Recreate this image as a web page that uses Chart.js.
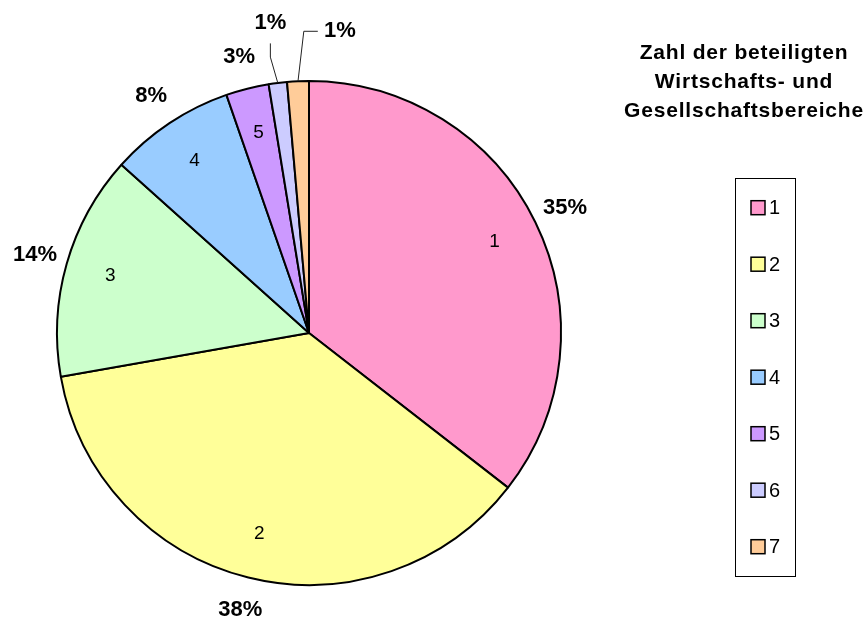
<!DOCTYPE html>
<html>
<head>
<meta charset="utf-8">
<script src="https://cdn.jsdelivr.net/npm/chart.js@4/dist/chart.umd.min.js"></script>
<style>
  html, body { margin: 0; padding: 0; background: #fff; }
</style>
</head>
<body>
<canvas id="chart" width="863" height="617"></canvas>
<script>
const categories = ['1', '2', '3', '4', '5', '6', '7'];
const shares = [35.5, 36.7, 14.4, 8.05, 2.75, 1.17, 1.39];
const shareLabels = ['35%', '38%', '14%', '8%', '3%', '1%', '1%'];
const colors = ['#FF99CC', '#FFFF99', '#CCFFCC', '#99CCFF', '#CC99FF', '#CCCCFF', '#FFCC99'];
const legendTitle = ['Zahl der beteiligten', 'Wirtschafts- und', 'Gesellschaftsbereiche'];

const FONT = '"Liberation Sans", Arial, sans-serif';

// labels inside and outside the slices, with leader lines for the tiny ones
const pieLabels = {
  id: 'pieLabels',
  afterDatasetsDraw(chart) {
    const ctx = chart.ctx;
    const meta = chart.getDatasetMeta(0);
    let smallCount = 0;
    ctx.save();
    ctx.fillStyle = '#000';
    ctx.strokeStyle = '#222';
    ctx.lineWidth = 1;
    ctx.textAlign = 'center';
    ctx.textBaseline = 'middle';
    meta.data.forEach((arc, i) => {
      const { x, y, startAngle, endAngle, outerRadius: r } =
        arc.getProps(['x', 'y', 'startAngle', 'endAngle', 'outerRadius'], true);
      const mid = (startAngle + endAngle) / 2;
      const cos = Math.cos(mid), sin = Math.sin(mid);
      if (shares[i] >= 2) {
        ctx.font = '19px ' + FONT;
        ctx.fillText(categories[i], x + cos * r * 0.82, y + sin * r * 0.82);
        ctx.font = 'bold 22px ' + FONT;
        ctx.fillText(shareLabels[i], x + cos * (r + 33), y + sin * (r + 33));
        return;
      }
      const ax = x + cos * r, ay = y + sin * r;
      ctx.font = 'bold 22px ' + FONT;
      ctx.beginPath();
      ctx.moveTo(ax, ay);
      if (smallCount === 0) {
        const lx = x + cos * (r + 60), ly = y + sin * (r + 60);
        ctx.lineTo(lx, y + sin * (r + 26));
        ctx.lineTo(lx, ly + 20);
        ctx.stroke();
        ctx.fillText(shareLabels[i], lx, ly);
      } else {
        const lx = x + cos * (r + 50) + 44, ly = y + sin * (r + 50);
        ctx.lineTo(lx - 36, ly);
        ctx.lineTo(lx - 22, ly);
        ctx.stroke();
        ctx.fillText(shareLabels[i], lx, ly);
      }
      smallCount++;
    });
    ctx.restore();
  }
};

// boxed legend on the right with its three-line title above
const sideLegend = {
  id: 'sideLegend',
  afterDraw(chart) {
    const ctx = chart.ctx;
    const meta = chart.getDatasetMeta(0);
    ctx.save();
    ctx.fillStyle = '#000';
    ctx.textAlign = 'center';
    ctx.textBaseline = 'middle';
    ctx.font = 'bold 21px ' + FONT;
    if ('letterSpacing' in ctx) ctx.letterSpacing = '0.8px';
    legendTitle.forEach((line, k) => ctx.fillText(line, 744, 53 + k * 29));
    if ('letterSpacing' in ctx) ctx.letterSpacing = '0px';

    ctx.strokeStyle = '#000';
    ctx.lineWidth = 1;
    ctx.strokeRect(735.5, 178.5, 60, 398);

    ctx.textAlign = 'left';
    ctx.font = '20px ' + FONT;
    chart.data.labels.forEach((label, i) => {
      const cy = 207.7 + i * 56.5;
      ctx.fillStyle = meta.data[i].options.backgroundColor;
      ctx.fillRect(751, cy - 7, 14, 14);
      ctx.lineWidth = 1.5;
      ctx.strokeRect(751, cy - 7, 14, 14);
      ctx.fillStyle = '#000';
      ctx.fillText(label, 769, cy + 1);
    });
    ctx.restore();
  }
};

new Chart(document.getElementById('chart'), {
  type: 'pie',
  data: {
    labels: categories,
    datasets: [{
      data: shares,
      backgroundColor: colors,
      borderColor: '#000',
      borderWidth: 2,
      hoverBorderWidth: 2,
      hoverOffset: 0
    }]
  },
  options: {
    responsive: false,
    animation: false,
    radius: 252,
    layout: { padding: { left: 57, top: 81, right: 302, bottom: 32 } },
    plugins: {
      legend: { display: false },
      tooltip: { enabled: false }
    }
  },
  plugins: [pieLabels, sideLegend]
});
</script>
</body>
</html>
